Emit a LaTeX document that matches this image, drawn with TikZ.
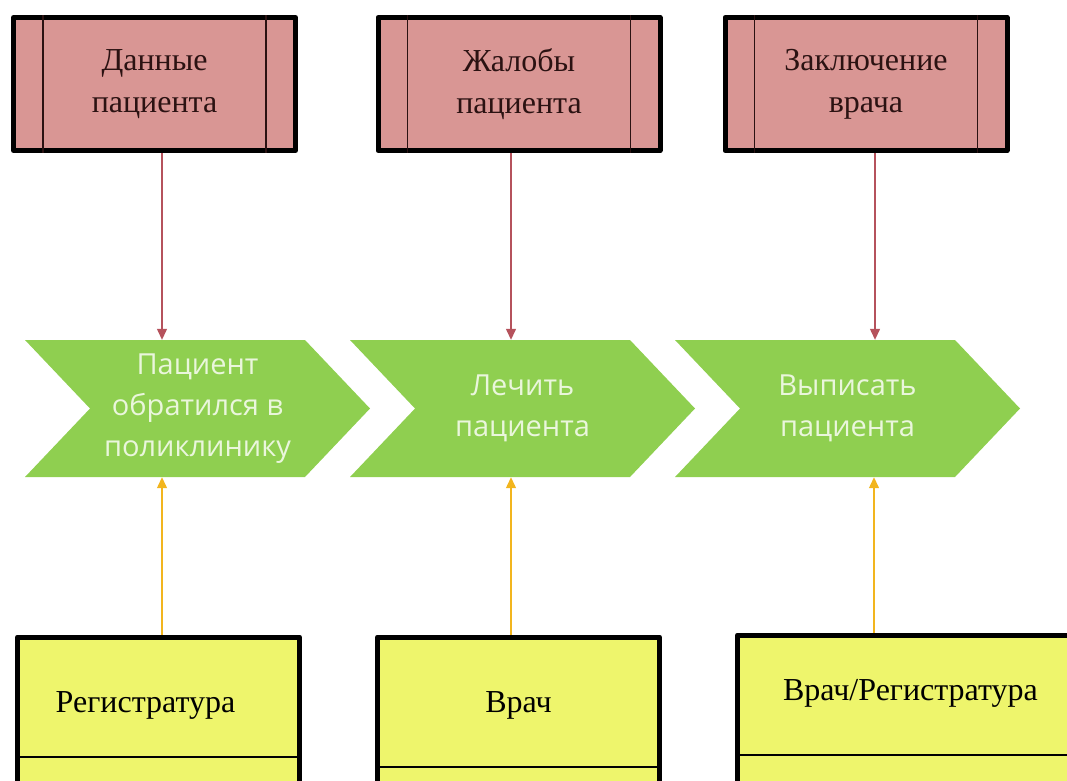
\documentclass[tikz,border=0pt]{standalone}
\usepackage{fontspec}
\setmainfont{Liberation Serif}
\newfontfamily\chevfont{Open Sans}
\usetikzlibrary{arrows.meta,shapes.symbols,positioning}
\definecolor{datapink}{HTML}{D99694}
\definecolor{datatext}{HTML}{2B1212}
\definecolor{stepgreen}{HTML}{8FCF50}
\definecolor{steptext}{HTML}{EAF6DC}
\definecolor{roleyellow}{HTML}{EEF56C}
\definecolor{inred}{HTML}{B5525C}
\definecolor{upyellow}{HTML}{F2B51E}
\begin{document}
\begin{tikzpicture}[x=1pt, y=-1pt, line join=round,
	databox/.style={draw=black, line width=5pt, fill=datapink, minimum width=282pt, minimum height=133pt, inner sep=0pt, align=center, text=datatext, font=\fontsize{32}{42}\selectfont},
	chevron/.style={signal, signal to=east, signal from=west, signal pointer angle=93, fill=stepgreen, minimum width=345pt, minimum height=137pt, inner sep=0pt, align=center, text=steptext, font=\chevfont\fontsize{29}{41}\selectfont},
	rolebox/.style={draw=black, line width=5pt, fill=roleyellow, minimum height=200pt, inner sep=0pt, anchor=north},
	roletext/.style={font=\fontsize{32}{40}\selectfont, text=black},
	inarrow/.style={draw=inred, line width=1.3pt, -{Triangle[length=11pt,width=10pt]}},
	uparrow/.style={draw=upyellow, line width=1.3pt, -{Triangle[length=11pt,width=10pt]}}]
	\useasboundingbox (0,0) rectangle (1067,780);
	\clip (0,0) rectangle (1067,780);
	\node[databox] (dan) at (154.5,84) {Данные\\пациента};
	\node[databox] (zhal) at (519,84) {Жалобы\\пациента};
	\node[databox] (zakl) at (866,84) {Заключение\\врача};
	\foreach \b in {dan,zhal,zakl}{
		\draw[datatext, line width=1.5pt] ([xshift=32]\b.north west) -- ([xshift=32]\b.south west);
		\draw[datatext, line width=1.5pt] ([xshift=-32]\b.north east) -- ([xshift=-32]\b.south east);
	}
	\node[chevron] (pac) at (197.5,408.5) {Пациент\\обратился в\\поликлинику};
	\node[chevron] (lech) at (522.5,408.5) {Лечить\\пациента};
	\node[chevron] (vyp) at (847.5,408.5) {Выписать\\пациента};
	\node[rolebox, minimum width=282pt] (reg) at (158.5,634.5) {};
	\node[rolebox, minimum width=282pt] (vrach) at (518.5,634.5) {};
	\node[rolebox, minimum width=350pt] (vrreg) at (912.5,632.5) {};
	\node[roletext] (regtxt) at ([xshift=-13,yshift=-71]reg.north) {Регистратура};
	\node[roletext] (vrachtxt) at ([yshift=-71]vrach.north) {Врач};
	\node[roletext] (vrregtxt) at ([xshift=-2,yshift=-61]vrreg.north) {Врач/Регистратура};
	\draw[line width=2pt] ([yshift=-122.5]reg.north west) -- ([yshift=-122.5]reg.north east);
	\draw[line width=2pt] ([yshift=-132.5]vrach.north west) -- ([yshift=-132.5]vrach.north east);
	\draw[line width=2pt] ([yshift=-122.5]vrreg.north west) -- ([yshift=-122.5]vrreg.north east);
	\draw[inarrow] ([xshift=7.5]dan.south) -- ([xshift=7.5]dan.south |- pac.north);
	\draw[inarrow] ([xshift=-8]zhal.south) -- ([xshift=-8]zhal.south |- lech.north);
	\draw[inarrow] ([xshift=9]zakl.south) -- ([xshift=9]zakl.south |- vyp.north);
	\draw[uparrow] ([xshift=3.5]reg.north) -- ([xshift=3.5]reg.north |- pac.south);
	\draw[uparrow] ([xshift=-7.5]vrach.north) -- ([xshift=-7.5]vrach.north |- lech.south);
	\draw[uparrow] ([xshift=-38.5]vrreg.north) -- ([xshift=-38.5]vrreg.north |- vyp.south);
\end{tikzpicture}
\end{document}
